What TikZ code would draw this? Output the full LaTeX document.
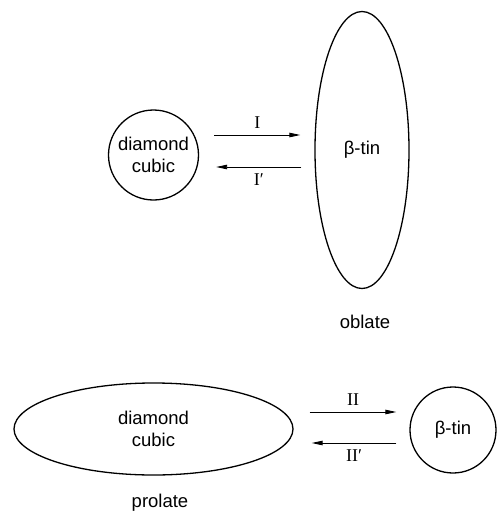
\documentclass[tikz,border=0pt]{standalone}
\usepackage{fontspec}
\setmainfont{Liberation Serif}
\newfontfamily\labelsans{Liberation Sans}
\usetikzlibrary{shapes.geometric,arrows.meta,calc}
\begin{document}
\begin{tikzpicture}[x=1pt,y=-1pt,
  phase/.style={draw,line width=1.3pt,inner sep=0pt,align=center,
    font=\labelsans\fontsize{18.5}{22}\selectfont},
  caption/.style={font=\labelsans\fontsize{18.5}{22}\selectfont},
  roman/.style={font=\fontsize{18}{20}\selectfont},
  arr/.style={line width=0.9pt,-{Triangle[length=11pt,width=4.5pt]}}]
\useasboundingbox (0,0) rectangle (497,515);

% transition I: spherical diamond cubic <-> oblate beta-tin
\node[phase,circle,minimum size=90pt] (dcA) at (153.5,155) {diamond\\cubic};
\node[phase,ellipse,minimum width=94pt,minimum height=277pt] (btA) at (362,150) {β-tin};
\node[caption] (obl) at (365,322) {oblate};
\draw[arr] ($(dcA.east |- 0,135)+(15,0)$) -- ($(btA.west |- 0,135)+(-14,0)$)
  node[roman,midway,above=3pt] (lI) {I};
\draw[arr] ($(btA.west |- 0,167)+(-13,0)$) -- ($(dcA.east |- 0,167)+(17,0)$)
  node[roman,midway,below=3pt] (lIp) {I′};

% transition II: prolate diamond cubic <-> spherical beta-tin
\node[phase,ellipse,minimum width=279pt,minimum height=92pt] (dcB) at (153.5,429) {diamond\\cubic};
\node[phase,circle,minimum size=86pt] (btB) at (453,430) {β-tin};
\node[caption] (pro) at (160,503) {prolate};
\draw[arr] ($(dcB.east |- 0,412)+(16,0)$) -- ($(btB.west |- 0,412)+(-13,0)$)
  node[roman,midway,above=3pt] (lII) {II};
\draw[arr] ($(btB.west |- 0,443)+(-13,0)$) -- ($(dcB.east |- 0,443)+(18,0)$)
  node[roman,midway,below=3pt] (lIIp) {II′};
\end{tikzpicture}
\end{document}
